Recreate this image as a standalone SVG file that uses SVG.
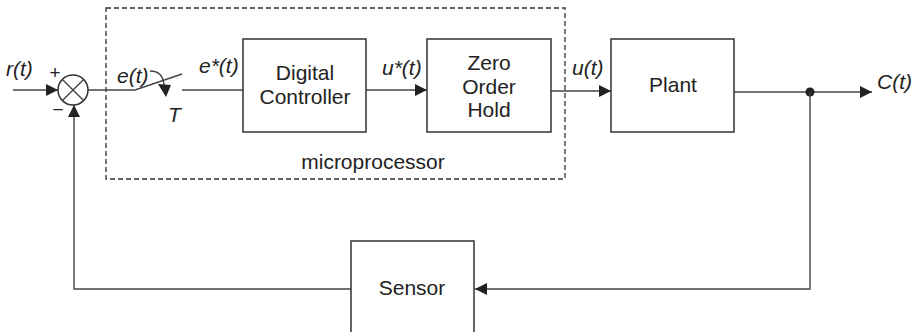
<svg xmlns="http://www.w3.org/2000/svg" width="918" height="332" viewBox="0 0 918 332">
<style>
.box{fill:#fff;stroke:#333;stroke-width:1.5}
.ln{fill:none;stroke:#444;stroke-width:1.4}
.t{font-family:"Liberation Sans",Arial,sans-serif;font-size:21px;fill:#222}
.i{font-style:italic}
.m{text-anchor:middle}
</style>
<defs>
<marker id="ah" markerUnits="userSpaceOnUse" markerWidth="14" markerHeight="14" viewBox="0 0 14 14" refX="13" refY="7" orient="auto">
<path d="M1,1 L13,7 L1,13 Z" fill="#222"/>
</marker>
</defs>
<rect x="106" y="8" width="459" height="171" fill="none" stroke="#333" stroke-width="1.3" stroke-dasharray="5,3"/>
<text class="t m" x="373" y="169">microprocessor</text>
<g id="connectors">
<line class="ln" x1="13" y1="90" x2="58" y2="90" marker-end="url(#ah)"/>
<polyline class="ln" points="88,90 135,90 182,74"/>
<line class="ln" x1="182" y1="90" x2="243" y2="90"/>
<path class="ln" d="M150,71 Q163,71 164,85"/>
<polygon points="158,84 171,85 166,97" fill="#222"/>
<line class="ln" x1="366" y1="90" x2="427" y2="90" marker-end="url(#ah)"/>
<line class="ln" x1="551" y1="91" x2="611" y2="91" marker-end="url(#ah)"/>
<line class="ln" x1="734" y1="92" x2="872" y2="92" marker-end="url(#ah)"/>
<circle cx="810" cy="92" r="4.5" fill="#222"/>
<polyline class="ln" points="810,92 810,289 475,289" marker-end="url(#ah)"/>
<polyline class="ln" points="351,289 74,289 74,105" marker-end="url(#ah)"/>
</g>
<g id="sum">
<circle cx="73" cy="90" r="15" fill="#fff" stroke="#333" stroke-width="1.5"/>
<line class="ln" x1="62.4" y1="79.4" x2="83.6" y2="100.6"/>
<line class="ln" x1="83.6" y1="79.4" x2="62.4" y2="100.6"/>
<text class="t m" x="55" y="79" style="font-size:19px">+</text>
<text class="t m" x="58" y="116" style="font-size:19px">−</text>
</g>
<g id="controller">
<rect class="box" x="243" y="39" width="123" height="93"/>
<text class="t m" x="305" y="80">Digital</text>
<text class="t m" x="305" y="104">Controller</text>
</g>
<g id="zoh">
<rect class="box" x="427" y="39" width="124" height="93"/>
<text class="t m" x="489" y="70">Zero</text>
<text class="t m" x="489" y="94">Order</text>
<text class="t m" x="489" y="117">Hold</text>
</g>
<g id="plant">
<rect class="box" x="611" y="39" width="123" height="93"/>
<text class="t m" x="673" y="92">Plant</text>
</g>
<g id="sensor">
<rect class="box" x="351" y="241" width="123" height="100"/>
<text class="t m" x="412" y="295">Sensor</text>
</g>
<g id="labels">
<text class="t i" x="6" y="76">r(t)</text>
<text class="t i" x="117" y="83">e(t)</text>
<text class="t i" x="199" y="73">e*(t)</text>
<text class="t i" x="168" y="122">T</text>
<text class="t i" x="382" y="75">u*(t)</text>
<text class="t i" x="572" y="75">u(t)</text>
<text class="t i" x="877" y="89">C(t)</text>
</g>
</svg>
